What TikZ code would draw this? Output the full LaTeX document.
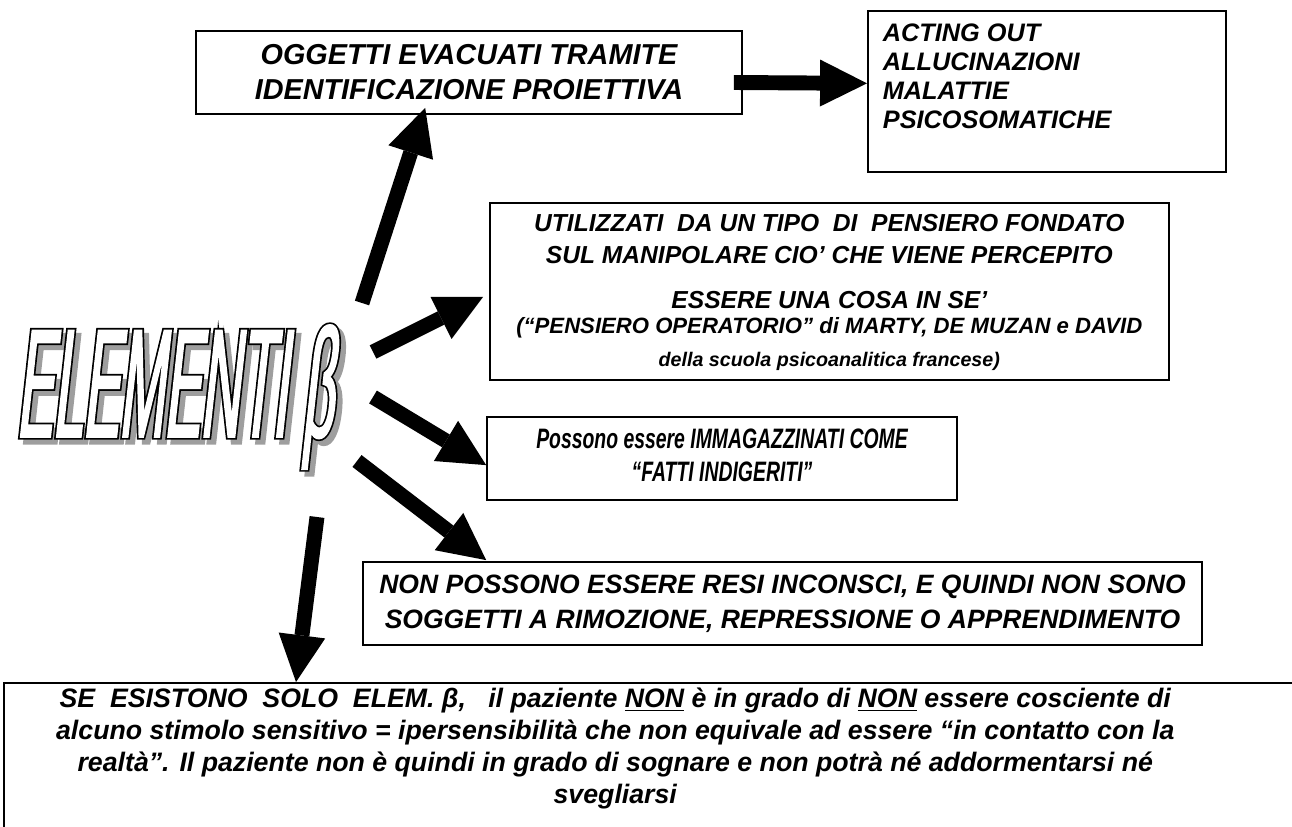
\documentclass[tikz,border=0pt]{standalone}
\usepackage{fontspec}
\setmainfont{Liberation Sans}
\newfontfamily\artblack[FakeSlant=0.11,FakeStretch=0.35,FakeBold=3.4]{Liberation Sans}
\newfontfamily\artwhite[FakeSlant=0.11,FakeStretch=0.35,FakeBold=1.2]{Liberation Sans}
\usetikzlibrary{arrows.meta,calc}
\tikzstyle{concept} = [rectangle, draw=black, line width=1pt, fill=white, align=center, inner sep=0pt, font=\bfseries\itshape]
\tikzstyle{bigarrow} = [line width=8.5pt, -{Triangle[width=26.7pt,length=26.7pt,line width=0pt]}]
\tikzstyle{wordart} = [anchor=base west, inner sep=0pt]
\newcommand{\artword}[1]{{#1\fontsize{88}{88}\selectfont ELEMENTI β}}
\newcommand{\narrowtext}[1]{\scalebox{0.69}[1]{\begin{tabular}{@{}c@{}}#1\end{tabular}}}

\begin{document}
\begin{tikzpicture}[x=0.02cm, y=-0.02cm]
    \useasboundingbox (0,0) rectangle (1292,827);
    \clip (0,0) rectangle (1292,827);

    % word art: shadow, outline, white letters
    \node [wordart, text=black!38] at (21,442) {\artword\artblack};
    \node [wordart, text=black] at (16,437) {\artword\artblack};
    \node (elem) [wordart, text=white] at (16,437) {\artword\artwhite};

    \node (ogg) [concept, minimum width=10.92cm, minimum height=1.66cm, font={\bfseries\itshape\fontsize{16.4}{20}\selectfont}] at (469,72.5)
        {OGGETTI EVACUATI TRAMITE\\IDENTIFICAZIONE PROIETTIVA};
    \node (act) [concept, anchor=north west] at (867,10)
        {\begin{minipage}[t][3.22cm][t]{7.16cm}\raggedright\leftskip=0.3cm
         \fontsize{14.4}{16.5}\selectfont
         \rule{0pt}{17.6pt}ACTING OUT\\ALLUCINAZIONI\\MALATTIE\\PSICOSOMATICHE
         \end{minipage}};
    \node (util) [concept, anchor=north west] at (489,202)
        {\begin{minipage}[t][3.54cm][t]{13.58cm}\centering
         \fontsize{14}{18.2}\selectfont
         \rule{0pt}{16.5pt}UTILIZZATI\ \ DA UN TIPO\ \ DI\ \ PENSIERO FONDATO\par
         SUL MANIPOLARE CIO’ CHE VIENE PERCEPITO\par
         \vspace{7.4pt}ESSERE UNA COSA IN SE’\par
         {\fontsize{12.6}{14.2}\selectfont (“PENSIERO OPERATORIO” di MARTY, DE MUZAN e DAVID\par}
         {\fontsize{11.2}{18.8}\selectfont della scuola psicoanalitica francese)\par}
         \end{minipage}};
    \node (poss) [concept, minimum width=9.4cm, minimum height=1.66cm, font={\bfseries\itshape\fontsize{16}{18.8}\selectfont}] at (722,458.5)
        {\narrowtext{Possono essere IMMAGAZZINATI COME\\“FATTI INDIGERITI”}};
    \node (nonp) [concept, minimum width=16.78cm, minimum height=1.66cm, font={\bfseries\itshape\fontsize{15.1}{19.9}\selectfont}] at (782.5,603.5)
        {NON POSSONO ESSERE RESI INCONSCI, E QUINDI NON SONO\\SOGGETTI A RIMOZIONE, REPRESSIONE O APPRENDIMENTO};
    \node (se) [concept, anchor=north west] at (3,682)
        {\begin{minipage}[t][4.4cm][t]{26.56cm}\centering\rightskip=2.1cm plus 1fil
         \fontsize{15.2}{18.2}\selectfont
         \rule{0pt}{14.2pt}SE\ \ ESISTONO\ \ SOLO\ \ ELEM. β,\ \ \ il paziente \underline{NON} è in grado di \underline{NON} essere cosciente di\\
         alcuno stimolo sensitivo = ipersensibilità che non equivale ad essere “in contatto con la\\
         realtà”. Il paziente non è quindi in grado di sognare e non potrà né addormentarsi né\\
         svegliarsi
         \end{minipage}};

    % free ends of the arrows next to the word art
    \coordinate (s1) at (362,303);
    \coordinate (s2) at (373,352);
    \coordinate (s3) at (373,397);
    \coordinate (s4) at (357,461);
    \coordinate (s5) at (317,517);

    \draw [bigarrow] ($(ogg.east)+(-9,10)$) -- ($(act.west)+(0,-8)$);
    \draw [bigarrow] (s1) -- ($(ogg.south west)+(230,-7)$);
    \draw [bigarrow] (s2) -- ($(util.north west)+(-6,95)$);
    \draw [bigarrow] (s3) -- ($(poss.north west)+(0,49)$);
    \draw [bigarrow] (s4) -- ($(nonp.north west)+(124,-1)$);
    \draw [bigarrow] (s5) -- ($(se.north west)+(293,0)$);
\end{tikzpicture}
\end{document}
